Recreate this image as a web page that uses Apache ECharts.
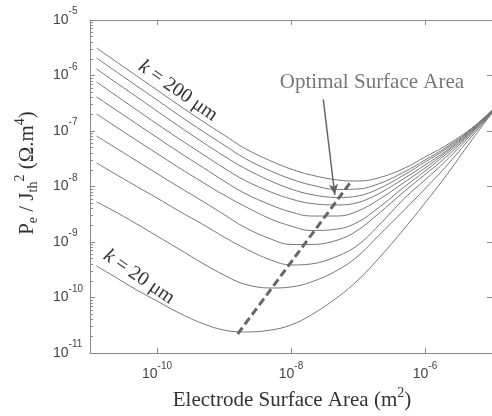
<!DOCTYPE html>
<html>
<head>
<meta charset="utf-8">
<script src="https://cdn.jsdelivr.net/npm/echarts@6/dist/echarts.min.js"></script>
<style>
  html, body { margin: 0; padding: 0; background: #fff; }
  #chart { width: 492px; height: 416px; }
</style>
</head>
<body>
<div id="chart"></div>
<script>
// electrode area (m^2) where the curves were read
const areaM2 = [1.25e-11, 2e-11, 5e-11, 1e-10, 2e-10, 5e-10, 1e-9, 2e-9, 5e-9, 1e-8,
                2e-8, 5e-8, 1e-7, 2e-7, 5e-7, 1e-6, 2e-6, 5e-6, 1e-5];

// log10(Pe / Jth^2), one list per k
const logP_k200 = [-5.505, -5.676, -6.009, -6.261, -6.514, -6.838, -7.072, -7.306, -7.541, -7.685, -7.793, -7.883, -7.901, -7.847, -7.667, -7.468, -7.270, -6.946, -6.622];
const logP_k180 = [-5.685, -5.856, -6.189, -6.441, -6.694, -7.018, -7.252, -7.486, -7.721, -7.865, -7.973, -8.054, -8.045, -7.955, -7.732, -7.523, -7.306, -6.959, -6.631];
const logP_k160 = [-5.883, -6.054, -6.387, -6.640, -6.892, -7.216, -7.450, -7.667, -7.901, -8.045, -8.144, -8.198, -8.171, -8.045, -7.784, -7.559, -7.333, -6.973, -6.640];
const logP_k140 = [-6.117, -6.288, -6.622, -6.874, -7.117, -7.432, -7.667, -7.883, -8.099, -8.225, -8.306, -8.333, -8.288, -8.135, -7.847, -7.613, -7.369, -6.982, -6.640];
const logP_k120 = [-6.387, -6.550, -6.874, -7.117, -7.360, -7.667, -7.901, -8.117, -8.333, -8.459, -8.532, -8.532, -8.441, -8.243, -7.919, -7.667, -7.396, -7.000, -6.649];
const logP_k100 = [-6.694, -6.856, -7.171, -7.405, -7.640, -7.937, -8.153, -8.351, -8.586, -8.712, -8.793, -8.766, -8.640, -8.387, -8.000, -7.721, -7.432, -7.018, -6.658];
const logP_k80  = [-7.090, -7.243, -7.541, -7.766, -7.991, -8.279, -8.505, -8.730, -8.946, -9.045, -9.045, -8.964, -8.784, -8.495, -8.081, -7.784, -7.483, -7.029, -6.658];
const logP_k60  = [-7.577, -7.721, -8.000, -8.207, -8.423, -8.694, -8.910, -9.108, -9.324, -9.414, -9.396, -9.252, -9.054, -8.712, -8.207, -7.883, -7.550, -7.054, -6.667];
const logP_k40  = [-8.279, -8.405, -8.676, -8.892, -9.108, -9.396, -9.595, -9.757, -9.829, -9.811, -9.721, -9.505, -9.252, -8.892, -8.413, -8.040, -7.656, -7.095, -6.676];
const logP_k20  = [-9.432, -9.577, -9.865, -10.063, -10.261, -10.477, -10.586, -10.622, -10.586, -10.495, -10.315, -9.991, -9.685, -9.306, -8.748, -8.297, -7.829, -7.162, -6.676];

const kValues = [200, 180, 160, 140, 120, 100, 80, 60, 40, 20];
const curves = [logP_k200, logP_k180, logP_k160, logP_k140, logP_k120,
                logP_k100, logP_k80, logP_k60, logP_k40, logP_k20];

// optimal surface area line (dashed) and the arrow pointing at it
const optimalArea = [1.60e-9, 7.52e-8];
const optimalP = [2.20e-11, 1.14e-8];
const arrowFrom = [3.03e-8, 3.72e-7];
const arrowTo = [4.51e-8, 7.03e-9];

// tick labels
const xTickValues = [1e-10, 1e-8, 1e-6];
const yDecades = [1e-11, 1e-10, 1e-9, 1e-8, 1e-7, 1e-6];
const minorSteps = [2, 3, 4, 5, 6, 7, 8, 9];
const yMinorTicks = [];
yDecades.forEach(d => minorSteps.forEach(m => yMinorTicks.push(m * d)));

const axisColor = '#8a8a8a';
const labelColor = '#444';
const sans = 'Liberation Sans, Arial, sans-serif';
const serif = 'Liberation Serif, Times New Roman, serif';

const powLabel = v => '{b|10}{s|' + Math.round(Math.log10(v)) + '}';
const powRich = {
  b: { fontSize: 14, fontFamily: sans, color: labelColor },
  s: { fontSize: 10, fontFamily: sans, color: labelColor, padding: [0, 0, 17, 0] }
};

const curveSeries = curves.map((logP, i) => ({
  name: 'k = ' + kValues[i] + ' μm',
  type: 'line',
  smooth: 0.4,
  showSymbol: false,
  silent: true,
  lineStyle: { color: '#777', width: 1 },
  data: areaM2.map((a, j) => [a, Math.pow(10, logP[j])])
}));

const chart = echarts.init(document.getElementById('chart'));
chart.setOption({
  animation: false,
  grid: { left: 90, top: 20, right: -4, bottom: 63 },
  xAxis: [
    {
      type: 'log', min: 1e-11, max: 1e-5, position: 'bottom',
      axisLine: { lineStyle: { color: axisColor, width: 1 } },
      axisTick: { inside: true, length: 5, customValues: xTickValues, lineStyle: { color: axisColor } },
      axisLabel: { customValues: xTickValues, margin: 8, formatter: powLabel, rich: powRich },
      splitLine: { show: false }
    },
    {
      type: 'log', min: 1e-11, max: 1e-5, position: 'top',
      axisLine: { lineStyle: { color: axisColor, width: 1 } },
      axisTick: { inside: true, length: 5, customValues: xTickValues, lineStyle: { color: axisColor } },
      axisLabel: { show: false },
      splitLine: { show: false }
    }
  ],
  yAxis: [
    {
      type: 'log', min: 1e-11, max: 1e-5, position: 'left',
      axisLine: { lineStyle: { color: axisColor, width: 1 } },
      axisTick: { inside: true, length: 5, lineStyle: { color: axisColor } },
      axisLabel: { align: 'left', margin: 37, formatter: powLabel, rich: powRich },
      splitLine: { show: false }
    },
    {
      type: 'log', min: 1e-11, max: 1e-5, position: 'right',
      axisLine: { lineStyle: { color: axisColor, width: 1 } },
      axisTick: { inside: true, length: 5, lineStyle: { color: axisColor } },
      axisLabel: { show: false },
      splitLine: { show: false }
    },
    {
      type: 'log', min: 1e-11, max: 1e-5, position: 'left',
      axisLine: { show: false },
      axisTick: { inside: true, length: 3, customValues: yMinorTicks, lineStyle: { color: axisColor } },
      axisLabel: { show: false },
      splitLine: { show: false }
    }
  ],
  series: curveSeries.concat([{
    name: 'Optimal Surface Area',
    type: 'line',
    showSymbol: false,
    silent: true,
    lineStyle: { color: '#666', width: 3, type: [8, 4] },
    data: optimalArea.map((a, i) => [a, optimalP[i]]),
    markLine: {
      silent: true,
      symbol: ['none', 'arrow'],
      symbolSize: [7, 11],
      label: { show: false },
      lineStyle: { color: '#666', width: 1.5, type: 'solid' },
      data: [[{ coord: arrowFrom }, { coord: arrowTo }]]
    }
  }]),
  graphic: [
    {
      type: 'text', x: 27, y: 173, rotation: Math.PI / 2,
      style: {
        text: '{t|P}{sub|e}{t| / J}{sub|th}{sup|2}{t| (Ω.m}{sup|4}{t|)}',
        align: 'center', verticalAlign: 'middle',
        rich: {
          t: { fontSize: 21, fontFamily: serif, fill: '#333' },
          sub: { fontSize: 14, fontFamily: serif, fill: '#333', padding: [12, 0, 0, 0] },
          sup: { fontSize: 14, fontFamily: serif, fill: '#333', padding: [0, 0, 14, 0] }
        }
      }
    },
    {
      type: 'text', x: 292, y: 400,
      style: {
        text: '{t|Electrode Surface Area (m}{sup|2}{t|)}',
        align: 'center', verticalAlign: 'middle',
        rich: {
          t: { fontSize: 21, fontFamily: serif, fill: '#333' },
          sup: { fontSize: 14, fontFamily: serif, fill: '#333', padding: [0, 0, 14, 0] }
        }
      }
    },
    {
      type: 'text', x: 372, y: 82,
      style: {
        text: 'Optimal Surface Area',
        align: 'center', verticalAlign: 'middle',
        fontSize: 21, fontFamily: serif, fill: '#777'
      }
    },
    {
      type: 'text', x: 178, y: 91, rotation: -0.61,
      style: {
        text: '{i|k}{t| = 200 μm}',
        align: 'center', verticalAlign: 'middle',
        rich: {
          i: { fontSize: 20, fontFamily: serif, fontStyle: 'italic', fill: '#333' },
          t: { fontSize: 20, fontFamily: serif, fill: '#333' }
        }
      }
    },
    {
      type: 'text', x: 139, y: 277, rotation: -0.6,
      style: {
        text: '{i|k}{t| = 20 μm}',
        align: 'center', verticalAlign: 'middle',
        rich: {
          i: { fontSize: 20, fontFamily: serif, fontStyle: 'italic', fill: '#333' },
          t: { fontSize: 20, fontFamily: serif, fill: '#333' }
        }
      }
    }
  ]
});
</script>
</body>
</html>
